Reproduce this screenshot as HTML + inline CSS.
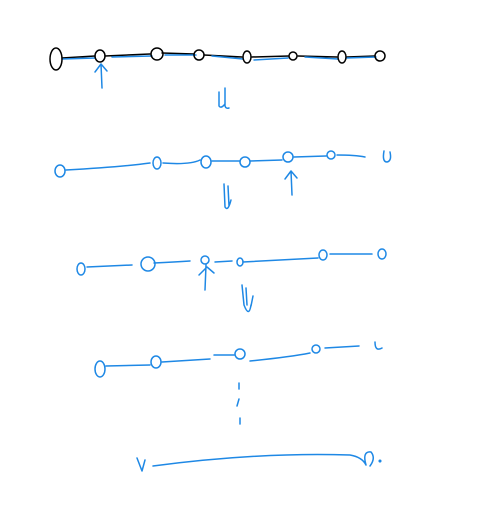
<!DOCTYPE html>
<html><head><meta charset="utf-8"><style>html,body{margin:0;padding:0;background:#fff}svg{display:block}</style></head>
<body>
<svg width="500" height="509" viewBox="0 0 500 509" fill="none" stroke-linecap="round" stroke-linejoin="round">
<g stroke-width="1.5">
 <path d="M62 58 L95 56 M105 56 L150 54 M162 53 L194 54 M204 55 L242 57 M252 57 L289 56 M298 56 L337 57 M347 57 L375 56" stroke="#000"/>
 <path d="M62 59 L95 58 M112 57 L152 56 M165 55 L196 55 M212 56 L243 59 M254 60 L288 58 M305 57 L338 59 M346 58 L376 57" stroke="#1e88e5"/>
 <g stroke="#000">
  <ellipse cx="56" cy="59" rx="6" ry="11"/><ellipse cx="100" cy="56" rx="5" ry="6"/><ellipse cx="157" cy="54" rx="6" ry="6"/><ellipse cx="199" cy="55" rx="5" ry="5"/><ellipse cx="247" cy="57" rx="4" ry="6"/><ellipse cx="293" cy="56" rx="4" ry="4"/><ellipse cx="342" cy="57" rx="4" ry="6"/><ellipse cx="380" cy="56" rx="5" ry="5"/>
 </g>
 <path d="M102 88 L101 64 M95 72 L101 64 L107 71" stroke="#1e88e5"/>
</g>
<path d="M219 92 L219 106 Q221 109 225 104 M225 88 L225 106 Q226 109 229 108" stroke="#1e88e5" stroke-width="1.5"/>
<g stroke="#1e88e5" stroke-width="1.5">
 <path d="M66 170 Q120 167 150 163 M163 163 Q190 165 200 160 M212 161 L240 161 M250 161 L282 160 M294 157 L326 156 M337 155 Q355 155 365 157"/>
 <ellipse cx="60" cy="171" rx="5" ry="6"/><ellipse cx="157" cy="163" rx="4" ry="6"/><ellipse cx="206" cy="162" rx="5" ry="6"/><ellipse cx="245" cy="162" rx="5" ry="5"/><ellipse cx="288" cy="157" rx="5" ry="5"/><ellipse cx="331" cy="155" rx="4" ry="4"/><path d="M384 151 Q382 162 387 162 Q392 161 390 152"/>
 <path d="M292 195 L291 171 M285 179 L291 171 L297 178"/>
 <path d="M224 184 L225 207 Q228 212 231 200 M228 186 L229 206"/>
</g>
<g stroke="#1e88e5" stroke-width="1.5">
 <path d="M87 267 L132 265 M141 264 M154 263 Q175 262 190 261 M215 262 L232 261 M243 262 L318 258 M330 254 L372 254"/>
 <ellipse cx="81" cy="269" rx="4" ry="6"/><ellipse cx="148" cy="264" rx="7" ry="7"/><ellipse cx="205" cy="260" rx="4" ry="4"/><ellipse cx="240" cy="262" rx="3" ry="4"/><ellipse cx="323" cy="255" rx="4" ry="5"/><ellipse cx="382" cy="254" rx="4" ry="5"/>
 <path d="M206 265 L205 290 M206 268 L199 275 M207 267 L214 273"/>
 <path d="M242 285 L244 305 Q249 318 251 305 M246 288 L247 305 M253 296 L251 306"/>
</g>
<g stroke="#1e88e5" stroke-width="1.5">
 <path d="M106 366 L150 365 M162 362 L210 359 M214 355 L234 355 M250 361 Q290 357 310 353 M325 348 L359 346"/>
 <ellipse cx="100" cy="369" rx="5" ry="8"/><ellipse cx="156" cy="362" rx="5" ry="6"/><ellipse cx="240" cy="354" rx="5" ry="5"/><ellipse cx="316" cy="349" rx="4" ry="4"/><path d="M375 342 Q375 352 382 348"/>
 <path d="M239 383 L239 389 M239 399 L237 406 M240 418 L240 424"/>
</g>
<g stroke="#1e88e5" stroke-width="1.5">
 <path d="M137 458 L142 471 L145 460 M153 466 Q260 452 350 455 Q362 457 366 465 M366 465 Q362 451 371 452 Q376 458 370 466"/>
 <circle cx="380" cy="461" r="0.8"/>
</g>
</svg>
</body></html>
